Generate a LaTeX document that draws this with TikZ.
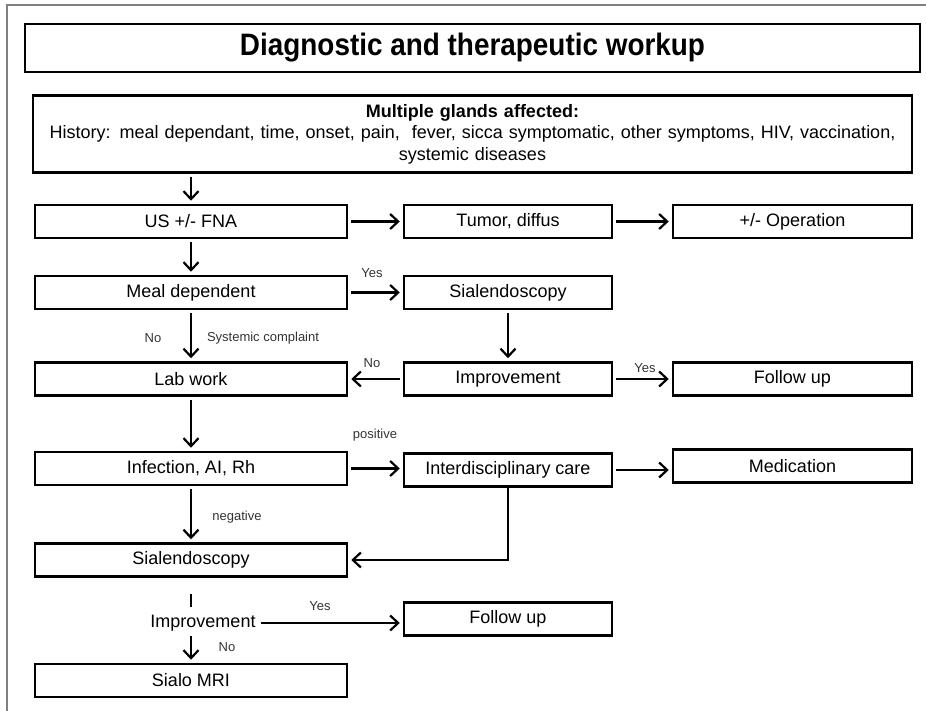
\documentclass[tikz,border=0pt]{standalone}
\usepackage{fontspec}
\setmainfont{Liberation Sans}
\newfontfamily\titlefont{Liberation Sans}[FakeStretch=0.9]
\usepackage{xcolor}
\usetikzlibrary{arrows.meta}

\begin{document}
\begin{tikzpicture}[x=1pt, y=-1pt,
        box/.style={draw, line width=2.5pt, minimum height=33pt, inner sep=0pt, font=\fontsize{18}{21}\selectfont},
        leftbox/.style={box, minimum width=312pt},
        midbox/.style={box, minimum width=208pt},
        rightbox/.style={box, minimum width=239pt},
        arr/.style={line width=2.2pt, -{Straight Barb[length=8pt, width=15pt]}, shorten <=3pt, shorten >=3pt},
        lbl/.style={font=\fontsize{13}{15}\selectfont, text=black!80, inner sep=1pt}]
        \useasboundingbox (0, 0) rectangle (926, 711);
        \draw[gray, line width=1.5pt] (926, 5) -- (7, 5) -- (7, 711);

        \node[draw, line width=2.5pt, minimum width=895pt, minimum height=48pt, inner sep=0pt,
              font=\titlefont\fontsize{31}{34}\selectfont\bfseries] (title) at (472.5, 48) {Diagnostic and therapeutic workup};
        \node[draw, line width=2.5pt, minimum width=879pt, minimum height=77pt, inner sep=0pt,
              text width=870pt, align=center, font=\fontsize{18}{21.5}\selectfont] (history) at (472.5, 134)
              {\textbf{Multiple glands affected:}\\
               History: meal dependant, time, onset, pain, \ fever, sicca symptomatic, other symptoms, HIV, vaccination,\\
               systemic diseases};

        \node[leftbox] (us) at (191, 221.5) {US +/- FNA};
        \node[midbox] (tumor) at (508, 221.5) {Tumor, diffus};
        \node[rightbox] (operation) at (792.5, 221.5) {+/- Operation};

        \node[leftbox] (meal) at (191, 292.5) {Meal dependent};
        \node[midbox] (sialo) at (508, 292.5) {Sialendoscopy};

        \node[leftbox] (lab) at (191, 379) {Lab work};
        \node[midbox] (improve) at (508, 379) {Improvement};
        \node[rightbox] (follow) at (792.5, 379) {Follow up};

        \node[leftbox] (infection) at (191, 468.5) {Infection, AI, Rh};
        \node[midbox] (care) at (508, 470) {Interdisciplinary care};
        \node[rightbox] (medication) at (792.5, 466) {Medication};

        \node[leftbox] (sialoB) at (191, 560) {Sialendoscopy};
        \node[font=\fontsize{18}{21}\selectfont, inner sep=2pt] (improveB) at (203, 623) {Improvement};
        \node[midbox] (followB) at (508, 619) {Follow up};
        \node[leftbox] (mri) at (191, 680.5) {Sialo MRI};

        \draw[arr] (history.south -| us) -- (us);
        \draw[arr] (us) -- (tumor);
        \draw[arr] (tumor) -- (operation);
        \draw[arr] (us) -- (meal);
        \draw[arr] (meal) -- (sialo);
        \draw[arr] (meal) -- (lab);
        \draw[arr] (sialo) -- (improve);
        \draw[arr] (improve) -- (lab);
        \draw[arr] (improve) -- (follow);
        \draw[arr] (lab) -- (infection);
        \draw[arr] (infection.east) -- (infection.east -| care.west);
        \draw[arr] (care.east) -- (care.east -| medication.west);
        \draw[arr] (infection) -- (sialoB);
        \draw[arr, shorten <=0pt] (care.south) |- (sialoB.east);
        \draw[line width=2.2pt, shorten <=16pt, shorten >=6pt] (sialoB.south) -- (sialoB.south |- improveB.north);
        \draw[arr] (improveB.east) -- (improveB.east -| followB.west);
        \draw[arr] (improveB.south -| mri) -- (mri);

        \node[lbl] (yesA) at (372, 273) {Yes};
        \node[lbl] (noA) at (153, 338) {No};
        \node[lbl] (complaint) at (263, 338) {Systemic complaint};
        \node[lbl] (noB) at (372, 363) {No};
        \node[lbl] (yesB) at (645, 368) {Yes};
        \node[lbl] (positive) at (375, 435) {positive};
        \node[lbl] (negative) at (237, 517) {negative};
        \node[lbl] (yesC) at (320, 606) {Yes};
        \node[lbl] (noC) at (227, 647) {No};
    \end{tikzpicture}
\end{document}
